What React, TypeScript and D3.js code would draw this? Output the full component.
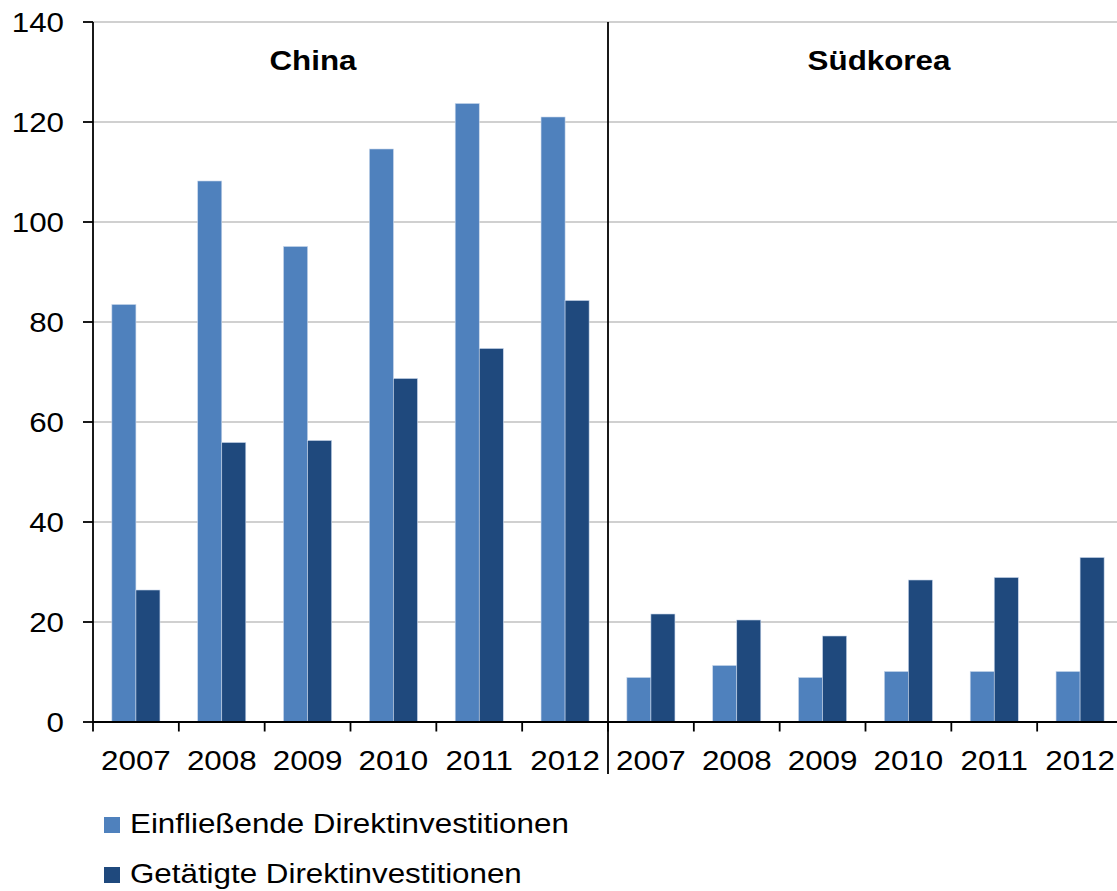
import { useRef, useEffect } from 'react'
import * as d3 from 'd3'

const countries = ['China', 'Südkorea']
const years = ['2007', '2008', '2009', '2010', '2011', '2012']
const seriesNames = ['Einfließende Direktinvestitionen', 'Getätigte Direktinvestitionen']
const inflowChina = [83.5, 108.2, 95.1, 114.6, 123.7, 121.0]
const outflowChina = [26.4, 55.9, 56.3, 68.7, 74.7, 84.3]
const inflowKorea = [8.9, 11.3, 8.9, 10.1, 10.1, 10.1]
const outflowKorea = [21.6, 20.4, 17.2, 28.4, 28.9, 32.9]
const yTicks = [0, 20, 40, 60, 80, 100, 120, 140]

const colors = ['#4F81BD', '#1F497D']

interface Row {
  key: string
  country: string
  year: string
  values: number[]
}

const rows: Row[] = []
years.forEach((y, i) => rows.push({ key: `China-${y}`, country: 'China', year: y, values: [inflowChina[i], outflowChina[i]] }))
years.forEach((y, i) => rows.push({ key: `Südkorea-${y}`, country: 'Südkorea', year: y, values: [inflowKorea[i], outflowKorea[i]] }))

const App = () => {
  const svgRef = useRef<SVGSVGElement>(null)
  const width = 1117
  const height = 891

  useEffect(() => {
    if (!svgRef.current) return
    const svg = d3.select(svgRef.current)
    svg.selectAll('*').remove()

    const left = 93
    const right = 1123
    const top = 22
    const bottom = 722
    const font = '"Liberation Sans", Arial, sans-serif'
    const fs = '28.5px'
    // the source picture is a little stretched sideways, so text is too
    const sx = 1.1

    const x = d3.scaleBand<string>().domain(rows.map(r => r.key)).range([left, right]).padding(0)
    const bw = x.bandwidth()
    const x1 = d3.scaleBand<number>().domain([0, 1]).range([bw * 0.22, bw * 0.78]).padding(0)
    const y = d3.scaleLinear().domain([0, 140]).range([bottom, top])

    // gridlines
    svg.append('g')
      .selectAll('line')
      .data(yTicks.filter(t => t > 0))
      .join('line')
      .attr('x1', left)
      .attr('x2', right)
      .attr('y1', d => y(d))
      .attr('y2', d => y(d))
      .attr('stroke', '#c0c0c0')
      .attr('stroke-width', 1.6)

    // bars
    const groups = svg.append('g')
      .selectAll('g')
      .data(rows)
      .join('g')
      .attr('transform', d => `translate(${x(d.key)},0)`)

    groups.selectAll('rect')
      .data(d => d.values.map((v, i) => ({ v, i })))
      .join('rect')
      .attr('x', d => x1(d.i) as number)
      .attr('width', x1.bandwidth())
      .attr('y', d => y(d.v))
      .attr('height', d => y(0) - y(d.v))
      .attr('fill', d => colors[d.i])
      .attr('stroke', '#c6d5ea')
      .attr('stroke-width', 0.6)

    // y axis
    const yAxis = svg.append('g')
    yAxis.append('line')
      .attr('x1', left).attr('x2', left)
      .attr('y1', top).attr('y2', bottom + 9.5)
      .attr('stroke', '#000').attr('stroke-width', 1.8)
    yAxis.selectAll('.yt')
      .data(yTicks)
      .join('line')
      .attr('class', 'yt')
      .attr('x1', left - 10).attr('x2', left)
      .attr('y1', d => y(d)).attr('y2', d => y(d))
      .attr('stroke', '#000').attr('stroke-width', 1.8)
    yAxis.selectAll('text')
      .data(yTicks)
      .join('text')
      .attr('transform', d => `translate(${left - 29},${y(d)}) scale(${sx},1)`)
      .attr('dy', '0.36em')
      .attr('text-anchor', 'end')
      .style('font-family', font)
      .style('font-size', fs)
      .text(d => d)

    // x axis
    const xAxis = svg.append('g')
    xAxis.append('line')
      .attr('x1', left).attr('x2', right)
      .attr('y1', bottom).attr('y2', bottom)
      .attr('stroke', '#000').attr('stroke-width', 1.8)
    const boundaries = d3.range(1, rows.length).map(i => left + i * bw)
    xAxis.selectAll('.xt')
      .data(boundaries)
      .join('line')
      .attr('class', 'xt')
      .attr('x1', d => d).attr('x2', d => d)
      .attr('y1', bottom).attr('y2', bottom + 9.5)
      .attr('stroke', '#000').attr('stroke-width', 1.8)
    xAxis.selectAll('text')
      .data(rows)
      .join('text')
      .attr('transform', d => `translate(${(x(d.key) as number) + bw / 2},770) scale(${sx},1)`)
      .attr('text-anchor', 'middle')
      .style('font-family', font)
      .style('font-size', fs)
      .text(d => d.year)

    // divider between countries
    const divX = left + years.length * bw
    svg.append('line')
      .attr('x1', divX).attr('x2', divX)
      .attr('y1', top).attr('y2', 774)
      .attr('stroke', '#000').attr('stroke-width', 1.8)

    // country titles
    const titleX = [313, 879]
    svg.append('g')
      .selectAll('text')
      .data(countries)
      .join('text')
      .attr('transform', (_, i) => `translate(${titleX[i]},70) scale(${sx},1)`)
      .attr('text-anchor', 'middle')
      .style('font-family', font)
      .style('font-size', fs)
      .style('font-weight', 'bold')
      .text(d => d)

    // legend
    const legend = svg.append('g').attr('transform', 'translate(104, 817)')
    const items = legend.selectAll('g')
      .data(seriesNames)
      .join('g')
      .attr('transform', (_, i) => `translate(0, ${i * 50})`)
    items.append('rect')
      .attr('width', 16)
      .attr('height', 16)
      .attr('fill', (_, i) => colors[i])
    items.append('text')
      .attr('transform', `translate(26,16) scale(${sx},1)`)
      .style('font-family', font)
      .style('font-size', fs)
      .text(d => d)
  }, [])

  return (
    <svg
      ref={svgRef}
      width={width}
      height={height}
      style={{ position: 'absolute', left: 0, top: 0, background: '#fff', overflow: 'hidden' }}
    />
  )
}

export default App
